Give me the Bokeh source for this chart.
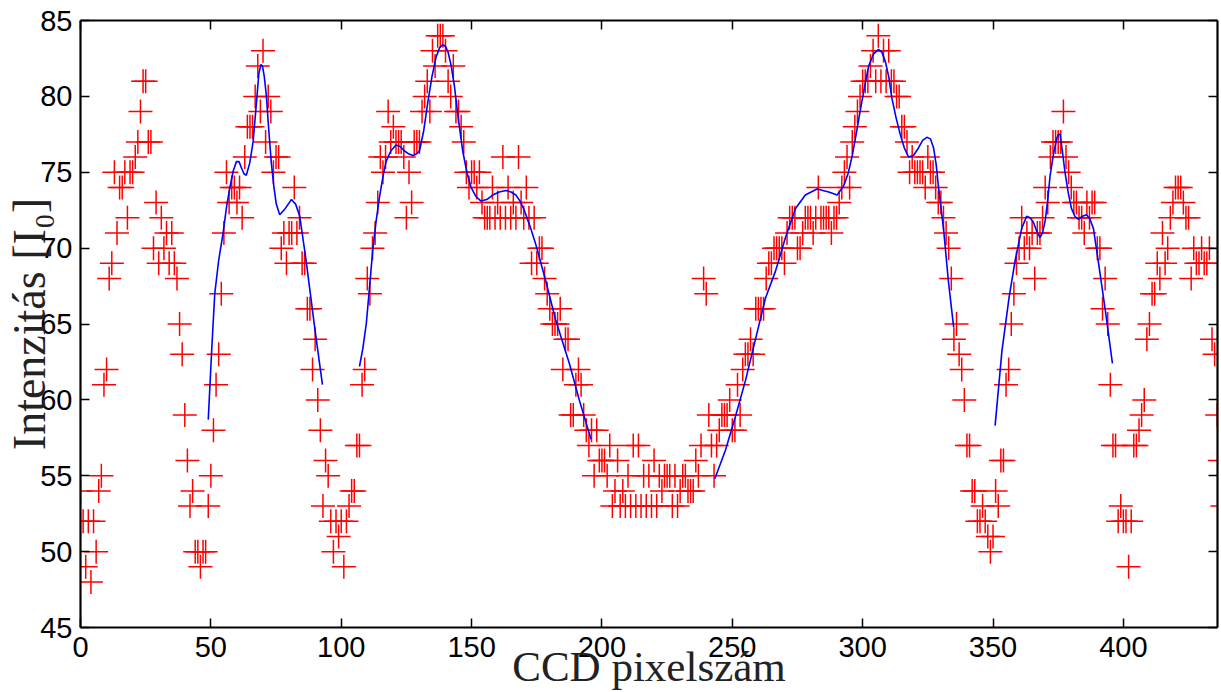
from bokeh.plotting import figure
from bokeh.models import Range1d, LinearAxis, SingleIntervalTicker
from bokeh.embed import file_html
from bokeh.resources import INLINE

# measured intensities, one per CCD pixel (0..438)
intensity = [
    54, 52, 49, 52, 48, 52, 50, 54, 55, 61,
    62, 68, 69, 75, 71, 74, 74, 75, 72, 75,
    75, 76, 77, 79, 81, 81, 77, 77, 70, 73,
    69, 72, 70, 71, 69, 71, 69, 68, 65, 63,
    59, 56, 53, 54, 50, 50, 49, 50, 50, 53,
    55, 58, 61, 63, 67, 71, 75, 73, 74, 74,
    73, 74, 72, 76, 78, 78, 78, 80, 82, 79,
    83, 77, 80, 79, 75, 76, 76, 70, 71, 69,
    71, 71, 74, 71, 72, 69, 69, 66, 66, 62,
    64, 60, 58, 53, 56, 55, 52, 50, 52, 51,
    52, 49, 52, 53, 54, 54, 57, 57, 61, 62,
    68, 67, 70, 71, 73, 76, 75, 76, 79, 77,
    78, 77, 77, 77, 76, 72, 75, 73, 77, 77,
    77, 79, 80, 81, 79, 83, 82, 84, 84, 84,
    83, 81, 80, 82, 79, 79, 78, 77, 75, 74,
    75, 75, 74, 75, 73, 72, 72, 72, 74, 72,
    73, 72, 76, 72, 74, 72, 73, 72, 76, 73,
    72, 74, 72, 69, 72, 69, 70, 70, 68, 67,
    66, 65, 65, 65, 66, 62, 64, 64, 59, 59,
    61, 62, 61, 59, 58, 57, 58, 55, 58, 56,
    56, 56, 55, 57, 53, 54, 56, 53, 54, 53,
    55, 53, 57, 53, 57, 53, 55, 53, 55, 53,
    56, 53, 55, 54, 55, 55, 55, 53, 55, 53,
    54, 55, 55, 54, 54, 54, 56, 55, 57, 68,
    67, 59, 57, 55, 57, 58, 59, 59, 59, 60,
    58, 58, 61, 59, 62, 63, 63, 64, 63, 66,
    66, 66, 66, 68, 69, 69, 70, 70, 70, 70,
    69, 71, 72, 72, 72, 70, 70, 71, 72, 72,
    72, 71, 72, 74, 72, 72, 72, 72, 71, 72,
    72, 73, 74, 75, 76, 74, 77, 78, 79, 80,
    81, 81, 81, 82, 83, 81, 84, 81, 83, 81,
    83, 81, 81, 80, 80, 78, 78, 77, 75, 76,
    75, 75, 75, 75, 74, 76, 75, 75, 74, 73,
    73, 72, 71, 70, 68, 64, 65, 63, 62, 60,
    57, 57, 54, 54, 52, 52, 53, 52, 51, 50,
    51, 54, 53, 56, 56, 61, 62, 65, 67, 69,
    70, 72, 70, 71, 70, 71, 68, 71, 71, 72,
    74, 73, 76, 77, 77, 77, 77, 79, 76, 75,
    74, 73, 73, 72, 72, 71, 73, 72, 73, 73,
    70, 70, 66, 68, 65, 61, 57, 57, 52, 53,
    52, 52, 49, 52, 57, 57, 58, 59, 60, 64,
    65, 67, 67, 69, 68, 71, 69, 70, 72, 73,
    74, 74, 74, 73, 72, 72, 68, 70, 69, 69,
    70, 69, 69, 70, 64, 63, 59, 56, 53,
]
pixel = list(range(len(intensity)))

# fitted curve, four segments
fit1_x = [49, 50.3, 51.5, 53, 54.7, 56, 57.3, 58.6, 59.8, 60.8, 61.7, 62.7, 63.6,
          64.9, 66.2, 67.4, 68.4, 69.2, 69.8, 70.5, 71.3, 72.2, 73.2, 74.2,
          75.1, 76.4, 78.5, 80.9, 82.5, 84.1, 86.6, 89.8, 92.8]
fit1_y = [58.7, 63.2, 67, 69.2, 71, 72.7, 74, 75.1, 75.7, 75.7, 75.3, 74.9, 74.8,
          75.6, 77, 79.4, 81.5, 82.1, 82, 81.3, 80, 77.8, 75.6, 74,
          72.9, 72.2, 72.6, 73.2, 72.9, 72.1, 69.1, 64.8, 61]
fit2_x = [107, 108.3, 109.6, 110.9, 112.1, 113.4, 114.7, 116, 117.2, 119, 121,
          122.6, 124.3, 126, 127.5, 128.8, 130, 131.6, 133.2, 134.8, 136.4,
          137.7, 138.9, 140, 141, 142.2, 143.4, 145, 146.6, 148.2, 149.8, 151.7,
          153.6, 155.8, 158.1, 160.6, 163.2, 165.1, 167, 168.6, 170.2, 172.5,
          174.7, 176.6, 178.5, 182.2, 187.5, 191.3, 195.8]
fit2_y = [62.2, 63.4, 65, 67.5, 69.9, 71.8, 73.4, 74.7, 75.7, 76.4, 76.8,
          76.7, 76.4, 76.2, 76.1, 76.2, 76.4, 77.7, 79.6, 81.3, 82.6,
          83.2, 83.4, 83.3, 82.9, 82, 80.7, 78.4, 76.4, 75, 74, 73.4,
          73.1, 73.2, 73.5, 73.7, 73.8, 73.7, 73.5, 73.1, 72.5, 71.4,
          70.2, 69, 67.8, 65.3, 62.4, 60, 57.4]
fit3_x = [243.3, 247.4, 251.2, 255.1, 258.9, 262.7, 266.6, 270.4, 274.2, 278,
          282.5, 287, 290.2, 292.7, 294.4, 296, 297.6, 299.1, 300.7, 302.3,
          304.2, 306.1, 307.4, 308.7, 310, 311.2, 312.8, 314.4, 316, 317.6,
          319.5, 321.4, 323, 324.6, 326, 327.2, 328.2, 329.1, 331, 332.9, 334.9]
fit3_y = [54.8, 56.7, 58.9, 61.3, 64, 66.7, 68.5, 70.7, 72.6, 73.5,
          73.9, 73.7, 73.5, 74.1, 74.9, 76.1, 77.6, 79.1, 80.6, 82,
          82.8, 83.1, 82.9, 82.3, 81.3, 79.9, 78.6, 77.5, 76.6, 76,
          76.1, 76.6, 77.1, 77.3, 77.2, 76.6, 75.5, 74, 71.3, 67.8, 64.8]
fit4_x = [350.8, 353.4, 356.2, 358.4, 361, 362.9, 364.2, 365.5, 366.8, 368,
          369, 370, 371, 371.9, 373.2, 374.4, 375.1, 375.7, 376.6, 377.6,
          378.9, 380.1, 381.4, 382.7, 384.3, 385.9, 387.2, 388.5, 390.4, 393, 395.8]
fit4_y = [58.3, 63.2, 66.8, 69.1, 71.3, 72.1, 72, 71.7, 71.1, 70.7,
          71, 71.8, 73.2, 74.8, 76.2, 77.2, 77.5, 77.5, 76.4, 75,
          73.6, 72.6, 72.1, 71.9, 72.1, 72.2, 71.9, 71.3, 69.1, 66, 62.4]

x_label = "CCD pixelszám"
y_label = "Intenzitás [I\u2080]"

p = figure(width=1221, height=692, output_backend="svg", toolbar_location=None,
           x_range=Range1d(0, 436.1), y_range=Range1d(45, 85),
           min_border_left=80, min_border_right=1, min_border_top=20,
           min_border_bottom=65)
p.background_fill_color = "white"
p.border_fill_color = "white"
p.outline_line_color = None
p.grid.visible = False

p.scatter(pixel, intensity, marker="cross", size=24, line_color="#ff0000",
          line_width=1.5)
for fx, fy in [(fit1_x, fit1_y), (fit2_x, fit2_y), (fit3_x, fit3_y), (fit4_x, fit4_y)]:
    p.line(fx, fy, line_color="#0000ff", line_width=1.6)

tick_font = "Liberation Sans"
label_font = "Liberation Serif"

for ax, interval in ((p.xaxis[0], 50), (p.yaxis[0], 5)):
    ax.ticker = SingleIntervalTicker(interval=interval)
    ax.minor_tick_line_color = None
    ax.major_tick_in = 9
    ax.major_tick_out = 0
    ax.major_tick_line_width = 1.5
    ax.axis_line_width = 2.2
    ax.major_label_text_font = tick_font
    ax.major_label_text_font_size = "29px"
    ax.major_label_text_color = "black"
    ax.axis_label_text_font = label_font
    ax.axis_label_text_font_style = "normal"
    ax.axis_label_text_color = "#222222"

p.xaxis[0].axis_label = x_label
p.xaxis[0].axis_label_text_font_size = "43px"
p.xaxis[0].major_label_standoff = 5
p.xaxis[0].axis_label_standoff = -17
p.yaxis[0].axis_label = y_label
p.yaxis[0].axis_label_text_font_size = "46px"
p.yaxis[0].major_label_standoff = 4
p.yaxis[0].axis_label_standoff = -18

for loc, interval in (("above", 50), ("right", 5)):
    ax = LinearAxis(ticker=SingleIntervalTicker(interval=interval))
    ax.minor_tick_line_color = None
    ax.major_tick_in = 9
    ax.major_tick_out = 0
    ax.major_tick_line_width = 1.5
    ax.axis_line_width = 2.2
    ax.major_label_text_font_size = "1px"
    ax.major_label_text_color = None
    ax.major_label_standoff = 0
    p.add_layout(ax, loc)

open("out.html", "w").write(file_html(p, INLINE))
